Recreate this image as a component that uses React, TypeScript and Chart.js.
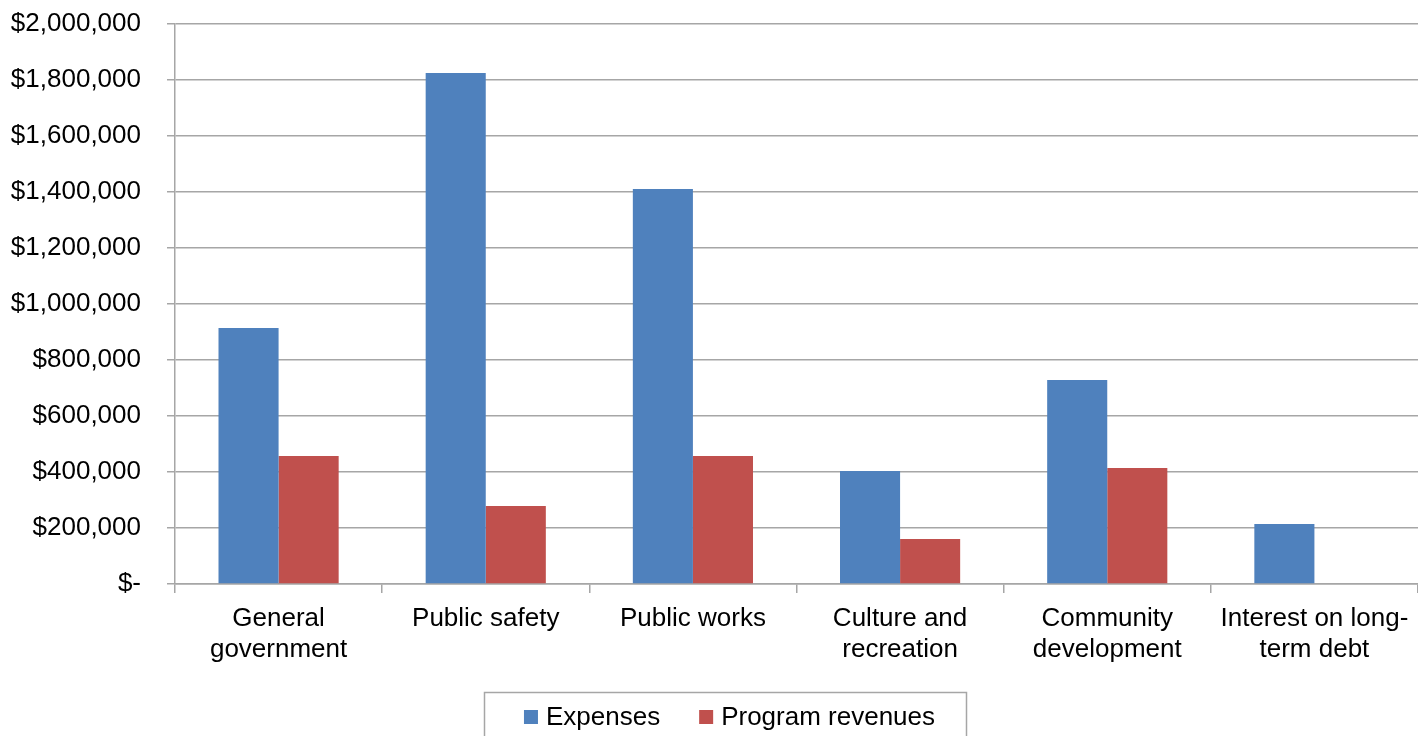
import React, { useEffect, useRef } from "react";
import { Chart, registerables } from "chart.js";

Chart.register(...registerables);

const categories: string[][] = [
  ["General", "government"],
  ["Public safety"],
  ["Public works"],
  ["Culture and", "recreation"],
  ["Community", "development"],
  ["Interest on long-", "term debt"],
];
const expenses = [914000, 1825000, 1411000, 404000, 729000, 214000];
const programRevenues = [457000, 279000, 457000, 161000, 414000, 0];
const seriesNames = ["Expenses", "Program revenues"];
const seriesColors = ["#4F81BD", "#C0504D"];

const FONT = "'Liberation Sans', Arial, sans-serif";

function fmt(v: number): string {
  if (v === 0) return "$-";
  return "$" + v.toLocaleString("en-US");
}

const legendBox = {
  id: "legendBox",
  afterDraw(chart: any) {
    const ctx = chart.ctx as CanvasRenderingContext2D;
    ctx.save();
    ctx.strokeStyle = "#a6a6a6";
    ctx.lineWidth = 1.5;
    ctx.strokeRect(484.5, 692.5, 482, 60);
    ctx.font = `26px ${FONT}`;
    ctx.textBaseline = "middle";
    ctx.textAlign = "left";
    const ds = chart.data.datasets;
    const sq = 14, gap = 8, spacing = 39;
    let total = 0;
    ds.forEach((d: any, i: number) => {
      total += sq + gap + ctx.measureText(d.label).width + (i < ds.length - 1 ? spacing : 0);
    });
    let x = 729.5 - total / 2;
    const cy = 717;
    ds.forEach((d: any) => {
      ctx.fillStyle = d.backgroundColor;
      ctx.fillRect(x, cy - 7, sq, sq);
      x += sq + gap;
      ctx.fillStyle = "#000";
      ctx.fillText(d.label, x, cy + 1);
      x += ctx.measureText(d.label).width + spacing;
    });
    ctx.restore();
  },
};

export default function App() {
  const ref = useRef<HTMLCanvasElement>(null);
  useEffect(() => {
    if (!ref.current) return;
    const chart = new Chart(ref.current, {
      type: "bar",
      data: {
        labels: categories,
        datasets: [
          { label: seriesNames[0], data: expenses, backgroundColor: seriesColors[0] },
          { label: seriesNames[1], data: programRevenues, backgroundColor: seriesColors[1] },
        ],
      },
      options: {
        responsive: false,
        animation: false,
        devicePixelRatio: 1,
        layout: { padding: { top: 24, right: 0, left: 0, bottom: 0 } },
        datasets: { bar: { categoryPercentage: 0.58, barPercentage: 1 } },
        plugins: { legend: { display: false }, tooltip: { enabled: false } },
        scales: {
          x: {
            grid: { drawOnChartArea: false, drawTicks: true, tickLength: 9, color: "#a6a6a6", lineWidth: 1.5 },
            border: { color: "#a6a6a6", width: 1.5 },
            ticks: { color: "#000", font: { family: FONT, size: 26 }, padding: 10, maxRotation: 0, autoSkip: false },
            afterFit: (s: any) => { s.height = 152; s.paddingLeft = 0; s.paddingRight = 0; },
          },
          y: {
            min: 0,
            max: 2000000,
            grid: { color: "#a6a6a6", lineWidth: 1.5, tickLength: 8 },
            border: { color: "#a6a6a6", width: 1.5 },
            ticks: { stepSize: 200000, color: "#000", font: { family: FONT, size: 26 }, padding: 26, callback: (v: any) => fmt(Number(v)) },
            afterFit: (s: any) => { s.width = 175; s.paddingTop = 0; s.paddingBottom = 0; },
          },
        },
      },
      plugins: [legendBox],
    });
    return () => chart.destroy();
  }, []);
  return (
    <div style={{ position: "absolute", left: 0, top: 0, width: 1418, height: 736, background: "#fff" }}>
      <canvas ref={ref} width={1418} height={736} />
    </div>
  );
}
